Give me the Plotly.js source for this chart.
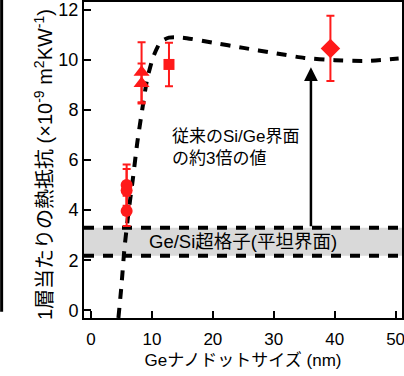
<!DOCTYPE html>
<html><head><meta charset="utf-8">
<script src="https://cdn.plot.ly/plotly-3.0.1.min.js"></script>
<style>html,body{margin:0;padding:0;background:#fff}</style>
</head><body>
<div id="chart" style="width:404px;height:376px"></div>
<script>
// Data
var circleX = [5.85, 5.85, 5.85];
var circleY = [5.0, 4.78, 3.97];
var circleErr = [0.82, 0.86, 0.6];
var triX = [8.3, 8.3];
var triY = [9.5, 9.05];
var triErr = [1.2, 0.8];
var sqX = [12.8];
var sqY = [9.81];
var sqErr = [0.87];
var diaX = [39.3];
var diaY = [10.45];
var diaErr = [1.3];
var curveX = [4.5, 5.0, 5.5, 6.2, 6.9, 7.6, 8.4, 9.2, 10.2, 11.4, 12.8, 15, 20, 25, 30, 35, 40, 45, 50.5];
var curveY = [-0.3, 1.0, 2.5, 4.0, 5.3, 6.7, 8.0, 9.2, 10.1, 10.7, 10.88, 10.88, 10.68, 10.47, 10.27, 10.07, 9.98, 9.95, 10.05];
var bandLow = 2.18, bandHigh = 3.3;
var arrowX = 36.1, arrowTip = 9.7;
var xTicks = [0, 10, 20, 30, 40, 50];
var yTicks = [0, 2, 4, 6, 8, 10, 12];
var xTitle = 'Geナノドットサイズ (nm)';
var yTitle = '1層当たりの熱抵抗 (×10<sup>-9</sup> m<sup>2</sup>KW<sup>-1</sup>)';
var noteText = '従来のSi/Ge界面<br>の約3倍の値';
var bandText = 'Ge/Si超格子(平坦界面)';

var FONT = 'Arial, "Liberation Sans", "Noto Sans CJK JP", sans-serif';
var RED = '#ff1a1a';
var DASH = '10px,9px';

function errTrace(x, y, e, sym, size) {
  return {x: x, y: y, type: 'scatter', mode: 'markers',
    marker: {color: RED, symbol: sym, size: size},
    error_y: {type: 'data', array: e, visible: true, color: RED, thickness: 2, width: 4},
    showlegend: false, cliponaxis: false};
}

var traces = [
  {x: [-1.15, 51.05], y: [bandHigh, bandHigh], type: 'scatter', mode: 'lines',
   line: {color: '#000', width: 4, dash: DASH}, showlegend: false, hoverinfo: 'skip'},
  {x: [-1.15, 51.05], y: [bandLow, bandLow], type: 'scatter', mode: 'lines',
   line: {color: '#000', width: 4, dash: DASH}, showlegend: false, hoverinfo: 'skip'},
  {x: curveX, y: curveY, type: 'scatter', mode: 'lines', line: {color: '#000', width: 4, dash: DASH, shape: 'spline', smoothing: 0.6}, showlegend: false},
  errTrace(circleX, circleY, circleErr, 'circle', 12),
  errTrace(triX, triY, triErr, 'triangle-up', 14),
  errTrace(sqX, sqY, sqErr, 'square', 11),
  errTrace(diaX, diaY, diaErr, 'diamond', 15)
];

var layout = {
  width: 404, height: 376,
  margin: {l: 84, r: 2, t: 2, b: 58},
  paper_bgcolor: '#fff', plot_bgcolor: '#fff',
  font: {family: FONT, size: 17, color: '#000'},
  xaxis: {range: [-1.15, 51.05], tickvals: xTicks, ticks: 'inside', ticklen: 7, tickwidth: 2, tickcolor: '#000',
    showline: true, linecolor: '#000', linewidth: 2, mirror: true, showgrid: false, zeroline: false,
    ticklabeloverflow: 'allow', ticklabelstandoff: 5,
    tickfont: {size: 17}, title: {text: xTitle, font: {size: 17}, standoff: 6}},
  yaxis: {range: [-0.3, 12.3], tickvals: yTicks, ticks: 'inside', ticklen: 7, tickwidth: 2, tickcolor: '#000',
    showline: true, linecolor: '#000', linewidth: 2, mirror: true, showgrid: false, zeroline: false,
    ticklabeloverflow: 'allow',
    tickfont: {size: 18}},
  shapes: [
    {type: 'rect', xref: 'paper', x0: 0, x1: 1, yref: 'y', y0: bandLow, y1: bandHigh, fillcolor: '#d9d9d9', line: {width: 0}, layer: 'below'},
    {type: 'line', xref: 'paper', yref: 'paper', x0: -0.259, x1: -0.259, y0: 0.02, y1: 1.01, line: {color: '#000', width: 3}}
  ],
  annotations: [
    {x: arrowX, y: arrowTip, ax: arrowX, ay: bandHigh, xref: 'x', yref: 'y', axref: 'x', ayref: 'y',
     showarrow: true, arrowhead: 2, arrowsize: 1.1, arrowwidth: 2.5, arrowcolor: '#000', text: ''},
    {x: 13.0, y: 6.5, xref: 'x', yref: 'y', xanchor: 'left', yanchor: 'middle', align: 'left', showarrow: false,
     text: noteText, font: {size: 17}},
    {x: 0.5, y: (bandLow + bandHigh) / 2, xref: 'paper', yref: 'y', showarrow: false,
     text: bandText, font: {size: 18.5}},
    {x: -0.129, y: 0.487, xref: 'paper', yref: 'paper', xanchor: 'center', yanchor: 'middle', showarrow: false,
     textangle: -90, text: yTitle, font: {size: 20}}
  ]
};

Plotly.newPlot('chart', traces, layout, {staticPlot: true, displayModeBar: false});
</script>
</body></html>
